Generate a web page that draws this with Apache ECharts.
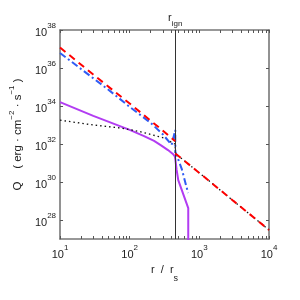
<!DOCTYPE html>
<html><head><meta charset="utf-8">
<script src="https://cdn.jsdelivr.net/npm/echarts@6/dist/echarts.min.js"></script>
<style>html,body{margin:0;padding:0;background:#fff}#c{width:300px;height:300px}</style>
</head><body><div id="c"></div>
<script>
// ---- data ----
const rIgn = 451;
const xMajorTicks = [10, 100, 1000, 10000];
const xMinorTicks = [20,30,40,50,60,70,80,90,200,300,400,500,600,700,800,900,2000,3000,4000,5000,6000,7000,8000,9000];
const yTicks = [1e28, 1e30, 1e32, 1e34, 1e36, 1e38];

const redInnerR = [10, 30, 100, 300, 450];
const redInnerQ = [1.2e37, 4.5e35, 1.35e34, 5e32, 1.4e32];
const redOuterR = [451, 1000, 3000, 10000];
const redOuterQ = [3.2e31, 3e30, 1.1e29, 3e27];

const blueR = [10, 20, 50, 100, 200, 300, 400, 451, 452, 560, 690];
const blueQ = [6.2e36, 8.9e35, 7e34, 9e33, 1.3e33, 3.2e32, 9e31, 5.5e32, 4e31, 4.8e30, 2.6e29];

const purpleR = [10, 30, 100, 158, 224, 282, 355, 417, 445, 452, 472, 498, 693, 693];
const purpleQ = [1.6e34, 3e33, 5.5e32, 2.7e32, 1.45e32, 8.5e31, 4.8e31, 3e31, 2.2e31, 1.6e31, 4.3e30, 1.26e30, 4.2e28, 1e26];

const blackR = [10, 30, 77, 140, 200, 320, 417, 451, 451, 1000, 3000, 10000];
const blackQ = [1.8e33, 1e33, 6.8e32, 4.5e32, 3.2e32, 2e32, 1.1e32, 1e32, 3.2e31, 3e30, 1.1e29, 3e27];

// ---- chart ----
const zip = (a, b) => a.map((v, i) => [v, b[i]]);
const FONT = 'Liberation Sans';
const axisGray = '#777777';
const powRich = {
  b: {fontSize: 11, fontFamily: FONT, color: '#222', lineHeight: 16, verticalAlign: 'bottom'},
  e: {fontSize: 8, fontFamily: FONT, color: '#222', lineHeight: 16, verticalAlign: 'top'}
};
const powFmt = v => '{b|10}{e|' + Math.round(Math.log10(v)) + '}';

function xAx(pos, showLabel) {
  return {
    type: 'log', min: 10, max: 10000, position: pos,
    axisLine: {show: true, onZero: false, lineStyle: {color: axisGray, width: 1.6}},
    axisTick: {show: true, inside: true, length: 3, customValues: xMajorTicks.concat(xMinorTicks), lineStyle: {color: '#555', width: 1}},
    axisLabel: showLabel ? {customValues: xMajorTicks, formatter: powFmt, rich: powRich, margin: 5} : {show: false},
    splitLine: {show: false}, minorTick: {show: false},
    name: showLabel ? '{n|r  /  r}{s|s}' : '',
    nameLocation: 'middle', nameGap: 17,
    nameTextStyle: {rich: {
      n: {fontSize: 11, fontFamily: FONT, color: '#222', lineHeight: 18, verticalAlign: 'top'},
      s: {fontSize: 9, fontFamily: FONT, color: '#222', lineHeight: 18, verticalAlign: 'bottom'}
    }}
  };
}
function yAx(pos, showLabel) {
  return {
    type: 'log', min: 1e27, max: 1e38, position: pos,
    axisLine: {show: true, onZero: false, lineStyle: {color: axisGray, width: 1.6}},
    axisTick: {show: true, inside: true, length: 3, customValues: yTicks, lineStyle: {color: '#555', width: 1}},
    axisLabel: showLabel ? {customValues: yTicks, formatter: powFmt, rich: powRich, margin: 4} : {show: false},
    splitLine: {show: false}, minorTick: {show: false},
    name: showLabel ? '{n|Q    ( erg · cm}{s|−2}{n| · s}{s|−1}{n| )}' : '',
    nameLocation: 'middle', nameGap: 31, nameRotate: 90,
    nameTextStyle: {rich: {
      n: {fontSize: 11.5, fontFamily: FONT, color: '#222', lineHeight: 16, verticalAlign: 'bottom'},
      s: {fontSize: 8, fontFamily: FONT, color: '#222', lineHeight: 16, verticalAlign: 'top'}
    }}
  };
}

const chart = echarts.init(document.getElementById('c'), null, {renderer: 'canvas'});
const lineSeries = (name, data, color, width, type, z) => ({
  name, type: 'line', data, xAxisIndex: 0, yAxisIndex: 0, showSymbol: false, symbol: 'none',
  clip: true, animation: false, z: z,
  lineStyle: {color, width, type}
});
chart.setOption({
  animation: false,
  grid: {left: 60, right: 31, top: 30, bottom: 61, containLabel: false},
  xAxis: [xAx('bottom', true), xAx('top', false)],
  yAxis: [yAx('left', true), yAx('right', false)],
  series: [
    Object.assign(lineSeries('ign', [], '#000', 1, 'solid', 1), {
      markLine: {
        silent: true, symbol: 'none', animation: false,
        lineStyle: {color: '#333', width: 1, type: 'solid'},
        label: {position: 'end', distance: 2, formatter: '{r|r}{s|ign}',
          rich: {
            r: {fontSize: 11, fontFamily: FONT, color: '#222', lineHeight: 16, verticalAlign: 'top'},
            s: {fontSize: 8, fontFamily: FONT, color: '#222', lineHeight: 16, verticalAlign: 'bottom'}
          }},
        data: [{xAxis: rIgn}]
      }
    }),
    lineSeries('purple', zip(purpleR, purpleQ), '#b23cf2', 2, 'solid', 2),
    lineSeries('black', zip(blackR, blackQ), '#111', 1.3, [1.5, 3], 3),
    lineSeries('blue', zip(blueR, blueQ), '#2f5cf5', 2, [7, 3, 2, 3], 4),
    lineSeries('redIn', zip(redInnerR, redInnerQ), '#ff0000', 2, [7, 5], 5),
    lineSeries('redOut', zip(redOuterR, redOuterQ), '#ff0000', 2, [7, 5], 5)
  ]
});
</script></body></html>
